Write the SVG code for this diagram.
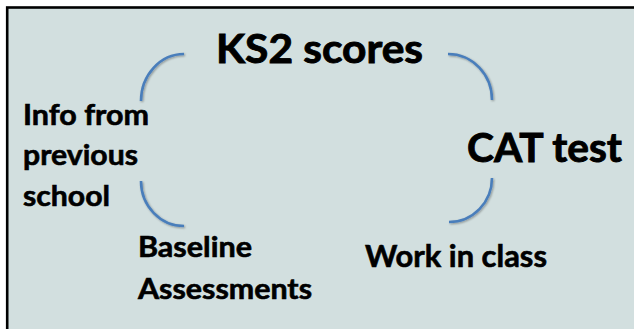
<svg xmlns="http://www.w3.org/2000/svg" width="634" height="329" viewBox="0 0 634 329">
<defs>
<filter id="sh" x="-20%" y="-20%" width="140%" height="140%">
<feGaussianBlur in="SourceAlpha" stdDeviation="0.8"/>
<feOffset dx="0.8" dy="1.2" result="b"/>
<feComponentTransfer><feFuncA type="linear" slope="0.35"/></feComponentTransfer>
<feMerge><feMergeNode/><feMergeNode in="SourceGraphic"/></feMerge>
</filter>
</defs>
<style>
.t{font-family:Lato,"Liberation Sans",sans-serif;font-weight:bold;fill:#000;stroke:#000;stroke-width:0.6}
.big{stroke-width:0.9}
.arc{fill:none;stroke:#4a7ebb;stroke-width:2.6;filter:url(#sh)}
</style>
<rect x="0" y="0" width="634" height="329" fill="#ffffff"/>
<rect x="7.2" y="7.5" width="640" height="340" fill="#d2dfdf" stroke="#000" stroke-width="2.6"/>
<g id="connectors">
<path class="arc" d="M184,54 A43,47 0 0 0 141,101"/>
<path class="arc" d="M448,54 A44,46 0 0 1 492,100"/>
<path class="arc" d="M141,181 A43,45 0 0 0 184,226"/>
<path class="arc" d="M492,178 A43,44 0 0 1 449,222"/>
</g>
<g id="ks2"><text class="t big" x="216" y="63" font-size="40" textLength="207" lengthAdjust="spacingAndGlyphs">KS2 scores</text></g>
<g id="cat"><text class="t big" x="467" y="162" font-size="40" textLength="155" lengthAdjust="spacingAndGlyphs">CAT test</text></g>
<g id="info">
<text class="t" x="23" y="125" font-size="29" textLength="126" lengthAdjust="spacingAndGlyphs">Info from</text>
<text class="t" x="23" y="165" font-size="29" textLength="115" lengthAdjust="spacingAndGlyphs">previous</text>
<text class="t" x="23" y="206" font-size="29" textLength="87" lengthAdjust="spacingAndGlyphs">school</text>
</g>
<g id="baseline">
<text class="t" x="138" y="257" font-size="28" textLength="114" lengthAdjust="spacingAndGlyphs">Baseline</text>
<text class="t" x="138" y="299" font-size="28" textLength="174" lengthAdjust="spacingAndGlyphs">Assessments</text>
</g>
<g id="work"><text class="t" x="365" y="267" font-size="30" textLength="182" lengthAdjust="spacingAndGlyphs">Work in class</text></g>
</svg>
